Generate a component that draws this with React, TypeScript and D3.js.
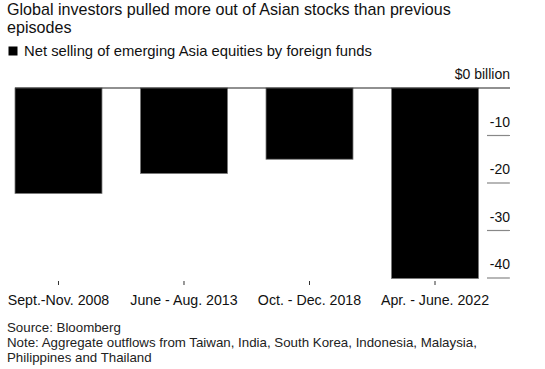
import { useEffect, useRef } from 'react';
import * as d3 from 'd3';

const categories = ['Sept.-Nov. 2008', 'June - Aug. 2013', 'Oct. - Dec. 2018', 'Apr. - June. 2022'];
const netSelling = [-22.2, -18, -15, -40.1];
const yTicks = [0, -10, -20, -30, -40];

const titleLines = ['Global investors pulled more out of Asian stocks than previous', 'episodes'];
const legendLabel = 'Net selling of emerging Asia equities by foreign funds';
const footLines = [
  'Source: Bloomberg',
  'Note: Aggregate outflows from Taiwan, India, South Korea, Indonesia, Malaysia,',
  'Philippines and Thailand',
];

const W = 545;
const H = 369;
const FONT = '"Liberation Sans", Arial, sans-serif';

const App = () => {
  const svgRef = useRef<SVGSVGElement>(null);

  useEffect(() => {
    if (!svgRef.current) return;
    const svg = d3.select(svgRef.current);
    svg.selectAll('*').remove();

    const x = d3.scaleBand<string>()
      .domain(categories)
      .range([15, 478.5])
      .paddingInner(0.307)
      .paddingOuter(0);

    const y = d3.scaleLinear()
      .domain([0, -40])
      .range([88, 278]);

    // title
    svg.append('g')
      .selectAll('text')
      .data(titleLines)
      .enter()
      .append('text')
      .attr('x', 7)
      .attr('y', (d, i) => 14.5 + i * 18)
      .style('font-family', FONT)
      .style('font-size', '16.1px')
      .style('fill', '#111')
      .text(d => d);

    // legend
    svg.append('rect')
      .attr('x', 8.5)
      .attr('y', 46.5)
      .attr('width', 9)
      .attr('height', 9)
      .attr('fill', '#000');
    svg.append('text')
      .attr('x', 24)
      .attr('y', 56)
      .style('font-family', FONT)
      .style('font-size', '14.8px')
      .style('fill', '#111')
      .text(legendLabel);

    // y ticks on the right
    const yAxis = svg.append('g');
    yAxis.selectAll('line')
      .data(yTicks.filter(t => t !== 0))
      .enter()
      .append('line')
      .attr('x1', 487)
      .attr('x2', 510)
      .attr('y1', d => y(d))
      .attr('y2', d => y(d))
      .attr('stroke', '#888')
      .attr('stroke-width', 1.2);
    yAxis.selectAll('text')
      .data(yTicks)
      .enter()
      .append('text')
      .attr('x', 510)
      .attr('y', d => y(d) - 9)
      .attr('text-anchor', 'end')
      .style('font-family', FONT)
      .style('font-size', '14px')
      .style('fill', '#111')
      .text(d => (d === 0 ? '$0 billion' : `${d}`));

    // bars
    svg.selectAll('rect.bar')
      .data(netSelling)
      .enter()
      .append('rect')
      .attr('class', 'bar')
      .attr('x', (d, i) => x(categories[i]) as number)
      .attr('y', y(0))
      .attr('width', x.bandwidth())
      .attr('height', d => y(d) - y(0))
      .attr('fill', '#000')
      .attr('stroke', '#777')
      .attr('stroke-width', 0.8);

    // zero line
    svg.append('line')
      .attr('x1', 15)
      .attr('x2', 510)
      .attr('y1', y(0))
      .attr('y2', y(0))
      .attr('stroke', '#222')
      .attr('stroke-width', 1.2);

    // x ticks and labels
    const xAxis = svg.append('g');
    xAxis.selectAll('line')
      .data(categories)
      .enter()
      .append('line')
      .attr('x1', d => (x(d) as number) + x.bandwidth() / 2)
      .attr('x2', d => (x(d) as number) + x.bandwidth() / 2)
      .attr('y1', 281)
      .attr('y2', 285)
      .attr('stroke', '#333')
      .attr('stroke-width', 1);
    xAxis.selectAll('text')
      .data(categories)
      .enter()
      .append('text')
      .attr('x', d => (x(d) as number) + x.bandwidth() / 2)
      .attr('y', 305)
      .attr('text-anchor', 'middle')
      .style('font-family', FONT)
      .style('font-size', '14.2px')
      .style('fill', '#111')
      .text(d => d);

    // footnotes
    svg.append('g')
      .selectAll('text')
      .data(footLines)
      .enter()
      .append('text')
      .attr('x', 7)
      .attr('y', (d, i) => 332 + i * 15)
      .style('font-family', FONT)
      .style('font-size', '13.3px')
      .style('fill', '#222')
      .text(d => d);
  }, []);

  return (
    <svg
      ref={svgRef}
      width={W}
      height={H}
      style={{ position: 'absolute', left: 0, top: 0, background: '#fff' }}
    />
  );
};

export default App;
